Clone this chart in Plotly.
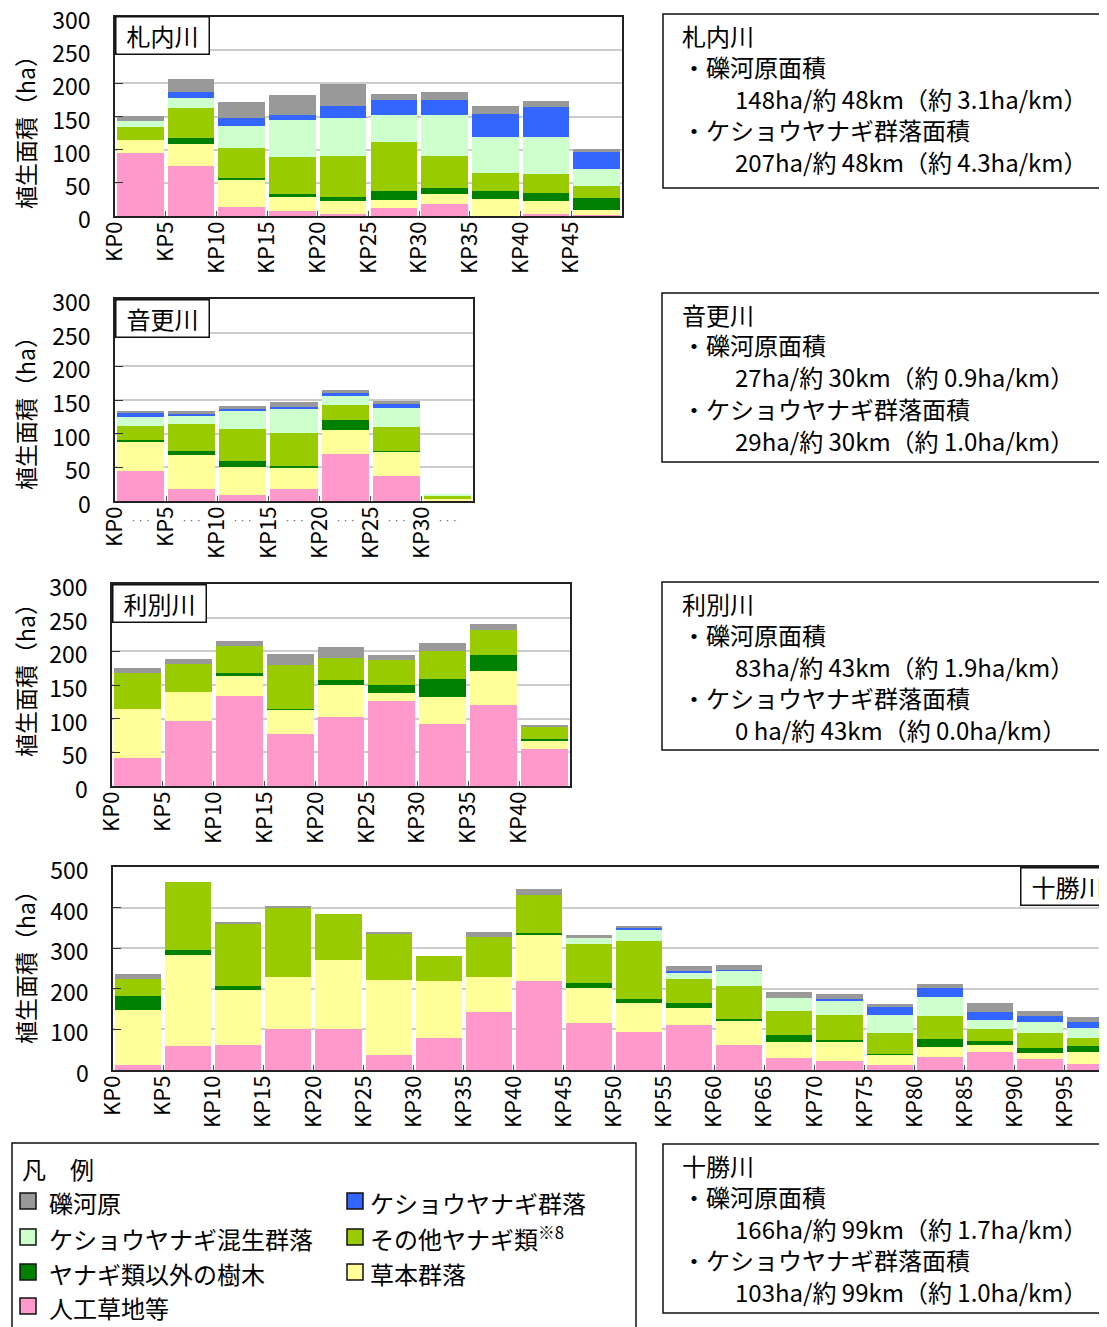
import numpy as np
import plotly.graph_objects as go

# page body adds an 8 px margin; the figure is sized so that it fills the rest of the window
PAGE_W, PAGE_H = 1107, 1327
BODY = 8
W, H = PAGE_W - BODY, PAGE_H - BODY
FONT = "Noto Sans CJK JP"

# ---------------- data ----------------
CATEGORIES = ["人工草地等", "草本群落", "ヤナギ類以外の樹木", "その他ヤナギ類",
              "ケショウヤナギ混生群落", "ケショウヤナギ群落", "礫河原"]
COLORS = ["#FF99CC", "#FFFF99", "#008000", "#99CC00", "#CCFFCC", "#3366FF", "#999999"]
SECTION_KM = 5

# 札内川
SATSUNAI_KP = [0, 5, 10, 15, 20, 25, 30, 35, 40, 45]
SATSUNAI_JINKO = [95, 76, 13, 7, 3, 12, 18, 0, 3, 1.5]
SATSUNAI_SOHON = [19, 33, 41, 21, 20, 12, 15, 25.5, 19.5, 7.5]
SATSUNAI_JUMOKU = [0, 9, 3.5, 4.5, 6, 13.5, 9, 12, 12, 18]
SATSUNAI_YANAGI = [19.5, 45, 44.5, 57, 61.5, 73.5, 48, 27, 28.5, 18]
SATSUNAI_KONSEI = [9, 15, 33, 55.5, 57, 42, 63, 54, 55.5, 25.5]
SATSUNAI_KESHOU = [0, 9, 13.5, 7.5, 18, 22.5, 22.5, 36, 46.5, 27]
SATSUNAI_REKI = [9, 19.5, 24, 30, 33, 9, 12, 12, 9, 3]

# 音更川
OTOFUKE_KP = [0, 5, 10, 15, 20, 25, 30]
OTOFUKE_JINKO = [44.6, 17.8, 8.9, 17.8, 69.8, 37.1, 0]
OTOFUKE_SOHON = [43, 50.5, 41.6, 31.2, 35.6, 35.7, 3]
OTOFUKE_JUMOKU = [3, 6, 8.9, 3, 14.9, 1.5, 0]
OTOFUKE_YANAGI = [20.8, 40.1, 47.5, 49, 22.3, 35.6, 4.4]
OTOFUKE_KONSEI = [13.4, 11.8, 26.8, 35.6, 13.3, 28.2, 3]
OTOFUKE_KESHOU = [5.9, 3, 2.9, 3, 4.5, 6, 0]
OTOFUKE_REKI = [3, 4.5, 4.5, 7.4, 4.5, 4.4, 0]

# 利別川
TOSHIBETSU_KP = [0, 5, 10, 15, 20, 25, 30, 35, 40]
TOSHIBETSU_JINKO = [41, 96, 133, 77, 102, 126, 92, 121, 54.5]
TOSHIBETSU_SOHON = [73, 43, 31, 36, 47.5, 12, 40, 50.5, 13.5]
TOSHIBETSU_JUMOKU = [0, 0, 4.5, 1.5, 7.5, 12, 26.5, 22.5, 1.5]
TOSHIBETSU_YANAGI = [53.5, 41.5, 40, 65, 32.5, 37, 41.5, 37, 18]
TOSHIBETSU_KONSEI = [0, 0, 0, 0, 0, 0, 0, 0, 0]
TOSHIBETSU_KESHOU = [0, 0, 0, 0, 0, 0, 0, 0, 0]
TOSHIBETSU_REKI = [7.5, 7.5, 7.5, 16, 16.5, 7.5, 12, 9, 3]

# 十勝川
TOKACHI_KP = [0, 5, 10, 15, 20, 25, 30, 35, 40, 45, 50, 55, 60, 65, 70, 75, 80, 85, 90, 95]
TOKACHI_JINKO = [12, 59, 61, 100, 100, 37, 78, 144, 220, 115, 93, 110, 61, 29, 22, 12, 32, 44, 27, 15]
TOKACHI_SOHON = [137, 225, 137, 130, 171, 184, 142, 86, 113, 88, 73, 42, 59, 39, 47, 25, 24, 17, 15, 29]
TOKACHI_JUMOKU = [34, 12, 10, 0, 0, 0, 0, 0, 5, 12, 10, 12, 5, 17, 5, 2.5, 20, 10, 12, 15]
TOKACHI_YANAGI = [42, 167, 152, 169, 113, 115, 61, 98, 93, 96, 142, 59, 81, 61, 61, 51, 56, 29, 37, 20]
TOKACHI_KONSEI = [0, 0, 0, 0, 0, 0, 0, 0, 0, 15, 27, 17, 39, 32, 37, 44, 49, 22, 27, 25]
TOKACHI_KESHOU = [0, 0, 0, 0, 0, 0, 0, 0, 0, 0, 5, 5, 2.5, 0, 2.5, 20, 20, 20, 15, 15]
TOKACHI_REKI = [12, 0, 5, 5, 0, 5, 0, 12, 15, 7, 5, 12, 12, 15, 12, 7, 12, 22, 12, 12]

INFO_SATSUNAI = ["札内川", "・礫河原面積", "148ha/約 48km（約 3.1ha/km）",
                 "・ケショウヤナギ群落面積", "207ha/約 48km（約 4.3ha/km）"]
INFO_OTOFUKE = ["音更川", "・礫河原面積", "27ha/約 30km（約 0.9ha/km）",
                "・ケショウヤナギ群落面積", "29ha/約 30km（約 1.0ha/km）"]
INFO_TOSHIBETSU = ["利別川", "・礫河原面積", "83ha/約 43km（約 1.9ha/km）",
                   "・ケショウヤナギ群落面積", "0 ha/約 43km（約 0.0ha/km）"]
INFO_TOKACHI = ["十勝川", "・礫河原面積", "166ha/約 99km（約 1.7ha/km）",
                "・ケショウヤナギ群落面積", "103ha/約 99km（約 1.0ha/km）"]

Y_TITLE = "植生面積（ha）"
LEGEND_TITLE = "凡　例"
LEGEND_LABELS = ["礫河原", "ケショウヤナギ群落", "ケショウヤナギ混生群落", "その他ヤナギ類<sup>※8</sup>",
                 "ヤナギ類以外の樹木", "草本群落", "人工草地等"]
LEGEND_COLOR_IDX = [6, 5, 4, 3, 2, 1, 0]


# ---------------- layout helpers (page pixels -> paper) ----------------
def fx(x):
    return (x - BODY) / W


def fy(y):
    return 1 - (y - BODY) / H


rivers = [
    dict(name="札内川", kp=SATSUNAI_KP,
         series=[SATSUNAI_JINKO, SATSUNAI_SOHON, SATSUNAI_JUMOKU, SATSUNAI_YANAGI,
                 SATSUNAI_KONSEI, SATSUNAI_KESHOU, SATSUNAI_REKI],
         ymax=300, dtick=50, box=(115, 622, 17, 216), xend=None, title_box=(115, 16), ytitle_y=127,
         info=INFO_SATSUNAI, info_box=(663, 14, 188)),
    dict(name="音更川", kp=OTOFUKE_KP,
         series=[OTOFUKE_JINKO, OTOFUKE_SOHON, OTOFUKE_JUMOKU, OTOFUKE_YANAGI,
                 OTOFUKE_KONSEI, OTOFUKE_KESHOU, OTOFUKE_REKI],
         ymax=300, dtick=50, box=(115, 473, 299, 501), xend=None, title_box=(115, 299), ytitle_y=408,
         info=INFO_OTOFUKE, info_box=(662, 293, 462)),
    dict(name="利別川", kp=TOSHIBETSU_KP,
         series=[TOSHIBETSU_JINKO, TOSHIBETSU_SOHON, TOSHIBETSU_JUMOKU, TOSHIBETSU_YANAGI,
                 TOSHIBETSU_KONSEI, TOSHIBETSU_KESHOU, TOSHIBETSU_REKI],
         ymax=300, dtick=50, box=(112, 570, 584, 786), xend=None, title_box=(112, 584), ytitle_y=675,
         info=INFO_TOSHIBETSU, info_box=(662, 582, 750)),
    dict(name="十勝川", kp=TOKACHI_KP,
         series=[TOKACHI_JINKO, TOKACHI_SOHON, TOKACHI_JUMOKU, TOKACHI_YANAGI,
                 TOKACHI_KONSEI, TOKACHI_KESHOU, TOKACHI_REKI],
         ymax=500, dtick=100, box=(113, 1107, 867, 1070), xend=99.2, title_box=(1020, 867), ytitle_y=962,
         info=INFO_TOKACHI, info_box=(663, 1144, 1313)),
]

fig = go.Figure()
layout = dict(
    width=W, height=H, margin=dict(l=0, r=0, t=0, b=0),
    paper_bgcolor="white", plot_bgcolor="white",
    barmode="stack", bargap=0.08, showlegend=False,
    font=dict(family=FONT, color="black"),
)
annotations = []
shapes = []

for i, r in enumerate(rivers, start=1):
    xid = "x" if i == 1 else f"x{i}"
    yid = "y" if i == 1 else f"y{i}"
    xkey = "xaxis" if i == 1 else f"xaxis{i}"
    ykey = "yaxis" if i == 1 else f"yaxis{i}"
    kp = np.array(r["kp"], dtype=float)
    centers = kp + SECTION_KM / 2
    for cat, col, vals in zip(CATEGORIES, COLORS, r["series"]):
        fig.add_trace(go.Bar(x=centers, y=vals, name=cat, xaxis=xid, yaxis=yid,
                             marker=dict(color=col, line=dict(width=0)),
                             showlegend=False))
    x0, x1, yt, yb = r["box"]
    xend = r["xend"] if r["xend"] is not None else len(kp) * SECTION_KM
    is_last = i == 4
    layout[xkey] = dict(
        domain=[fx(x0), min(1.0, fx(x1))], range=[0, xend], anchor=yid,
        tickmode="array", tickvals=list(kp), ticktext=[f"KP{int(k)}" for k in kp],
        tickangle=-90, ticks="inside", ticklen=5, tickcolor="#555",
        showline=True, linecolor="#222", linewidth=1.5, mirror=True,
        showgrid=False, zeroline=False, automargin=False,
        tickfont=dict(size=22, family=FONT), ticklabelstandoff=-5,
        ticklabeloverflow="allow", fixedrange=True,
    )
    layout[ykey] = dict(
        domain=[fy(yb), fy(yt)], range=[0, r["ymax"]], dtick=r["dtick"], anchor=xid,
        ticks="inside", ticklen=8, tickcolor="#333",
        showgrid=True, gridcolor="#cccccc", gridwidth=1.5,
        showline=True, linecolor="#222", linewidth=1.5, mirror=(not is_last),
        zeroline=False, automargin=False,
        tickfont=dict(size=23, family=FONT), ticklabelstandoff=18, ticklabelshift=4,
        ticklabeloverflow="allow", fixedrange=True,
    )
    # y title
    annotations.append(dict(text=Y_TITLE, x=fx(25), y=fy(r["ytitle_y"]), xref="paper", yref="paper",
                            textangle=-90, showarrow=False, xanchor="center", yanchor="middle",
                            font=dict(size=23, family=FONT)))
    # river title box
    tbx, tby = r["title_box"]
    annotations.append(dict(text=r["name"], x=fx(tbx), y=fy(tby), xref="paper", yref="paper",
                            showarrow=False, xanchor="left", yanchor="top",
                            width=90, height=34, align="center", valign="middle",
                            bgcolor="white", bordercolor="#111", borderwidth=1.5, borderpad=1,
                            font=dict(size=24, family=FONT)))
    # info box
    ibx, iby0, iby1 = r["info_box"]
    shapes.append(dict(type="rect", xref="paper", yref="paper", x0=fx(ibx), x1=fx(1120),
                       y0=fy(iby1), y1=fy(iby0), line=dict(color="#111", width=1.5),
                       fillcolor="rgba(0,0,0,0)"))
    offsets = [21, 52, 84, 115, 147]
    xstarts = [680, 680, 733, 680, 733]
    for txt, off, xs in zip(r["info"], offsets, xstarts):
        annotations.append(dict(text=txt, x=fx(xs), y=fy(iby0 + off), xref="paper", yref="paper",
                                showarrow=False, xanchor="left", yanchor="middle",
                                font=dict(size=24, family=FONT)))

# small dotted marks between labels of 音更川 axis
for k in OTOFUKE_KP:
    annotations.append(dict(text="· · ·", x=k + SECTION_KM / 2, y=fy(520), xref="x2", yref="paper",
                            showarrow=False, xanchor="center", yanchor="middle",
                            font=dict(size=9, color="#444", family=FONT)))

# legend box
shapes.append(dict(type="rect", xref="paper", yref="paper", x0=fx(12), x1=fx(636),
                   y0=fy(1340), y1=fy(1143), line=dict(color="#111", width=1.5),
                   fillcolor="rgba(0,0,0,0)"))
annotations.append(dict(text=LEGEND_TITLE, x=fx(20), y=fy(1168), xref="paper", yref="paper",
                        showarrow=False, xanchor="left", yanchor="middle",
                        font=dict(size=24, family=FONT)))
leg_pos = [(20, 1201), (347, 1201), (20, 1237), (347, 1237), (20, 1272), (347, 1272), (20, 1306)]
for label, ci, (lx, ly) in zip(LEGEND_LABELS, LEGEND_COLOR_IDX, leg_pos):
    shapes.append(dict(type="rect", xref="paper", yref="paper",
                       x0=fx(lx), x1=fx(lx + 16), y0=fy(ly + 8), y1=fy(ly - 8),
                       line=dict(color="#111", width=1.5), fillcolor=COLORS[ci]))
    tx = lx + 27 if lx < 100 else lx + 21
    annotations.append(dict(text=label, x=fx(tx), y=fy(ly + 1), xref="paper", yref="paper",
                            showarrow=False, xanchor="left", yanchor="middle",
                            font=dict(size=24, family=FONT)))

layout["annotations"] = annotations
layout["shapes"] = shapes
fig.update_layout(**layout)
fig.write_html("out.html")
